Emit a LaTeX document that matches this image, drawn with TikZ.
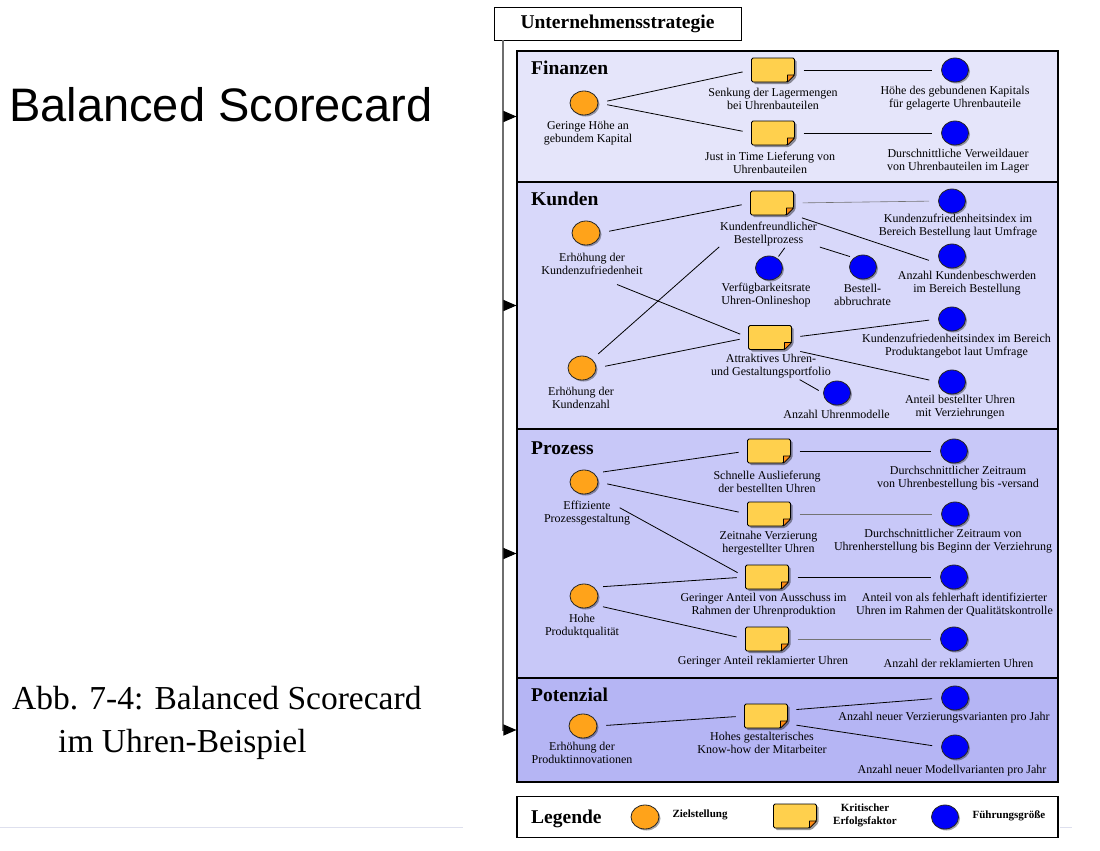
\documentclass[tikz,border=0pt]{standalone}
\usepackage{fontspec}
\setmainfont{Liberation Serif}
\newfontfamily\titlesans{Liberation Sans}
\usetikzlibrary{shapes.geometric,shadows,arrows.meta}
\definecolor{finfill}{RGB}{229,229,250}
\definecolor{kunfill}{RGB}{216,216,250}
\definecolor{profill}{RGB}{200,200,248}
\definecolor{potfill}{RGB}{181,181,244}
\definecolor{goalor}{RGB}{255,163,26}
\definecolor{noteyel}{RGB}{255,208,77}
\definecolor{foldor}{RGB}{255,140,20}
\definecolor{measbl}{RGB}{0,0,250}
\definecolor{spinegray}{RGB}{110,110,110}
\definecolor{footline}{RGB}{222,224,238}
\newcommand\mylbl{\fontsize{12bp}{13bp}\selectfont}
\newcommand\mysec{\fontsize{19.5bp}{22bp}\selectfont\bfseries}
\newcommand\myleg{\fontsize{11bp}{13bp}\selectfont\bfseries}
\tikzset{
  secbox/.style={draw=black, line width=1.1bp, minimum width=541bp, inner sep=0},
  goal/.style={ellipse, draw=black!85, line width=0.8bp, fill=goalor, minimum width=28bp, minimum height=24bp, inner sep=0,
    drop shadow={shadow xshift=1.5bp, shadow yshift=-1.5bp, opacity=0.35, fill=black}},
  meas/.style={goal, fill=measbl, minimum width=27bp},
  note/.style={rectangle, minimum width=43bp, minimum height=24bp, inner sep=0, outer sep=0},
  notebody/.style={draw=black, line width=0.8bp, fill=noteyel, rounded corners=1.5bp,
    drop shadow={shadow xshift=2bp, shadow yshift=-2bp, opacity=0.4, fill=black}},
  notefold/.style={draw=black, line width=0.6bp, fill=foldor, line join=round},
  lbl/.style={font=\mylbl, align=center, inner sep=0},
  sectitle/.style={font=\mysec, anchor=base west, inner sep=0},
  conn/.style={draw=black, line width=0.8bp, shorten <=9bp, shorten >=9bp},
  connthin/.style={conn, draw=black!55, line width=0.6bp},
  arr/.style={draw=spinegray, line width=1.1bp, -{Triangle[length=13bp,width=11bp,color=black]}},
}
\begin{document}
\begin{tikzpicture}[x=1bp,y=-1bp]
\useasboundingbox (0,0) rectangle (1100,851);
% left texts
\node[anchor=base west, inner sep=0, font=\titlesans\fontsize{47bp}{50bp}\selectfont] (title) at (9,121) {Balanced Scorecard};
\node[anchor=base west, inner sep=0, font=\fontsize{33.5bp}{40bp}\selectfont] (cap1) at (12,709) {Abb. 7-4: Balanced Scorecard};
\node[anchor=base west, inner sep=0, font=\fontsize{33.5bp}{40bp}\selectfont] (cap2) at (58,752) {im Uhren-Beispiel};
\draw[footline, line width=0.8bp] (0,827) -- (463,827);
\draw[footline, line width=0.8bp] (1060,827) -- (1072,827);

% section boxes
\node[secbox, fill=finfill, minimum height=131bp] (fin) at (787.5,116.5) {};
\node[secbox, fill=kunfill, minimum height=247bp] (kun) at (787.5,305.5) {};
\node[secbox, fill=profill, minimum height=249bp] (pro) at (787.5,553.5) {};
\node[secbox, fill=potfill, minimum height=104bp] (pot) at (787.5,730) {};
\node[secbox, fill=white, minimum height=41bp] (leg) at (787.5,817) {};

% strategy and spine
\node[draw=black, line width=0.9bp, fill=white, minimum width=247bp, minimum height=33bp, inner sep=0, font=\mysec] (strat) at (617.5,23.5) {Unternehmensstrategie};
\coordinate (s0) at (503,40);
\coordinate (s1) at (503,116.5);
\coordinate (s2) at (503,305.5);
\coordinate (s3) at (503,553.5);
\draw[arr] (s0) |- (pot.west);
\draw[arr] (s1) -- (fin.west);
\draw[arr] (s2) -- (kun.west);
\draw[arr] (s3) -- (pro.west);

% titles
\node[sectitle] (tfin) at (531,74) {Finanzen};
\node[sectitle] (tkun) at (531,205) {Kunden};
\node[sectitle] (tpro) at (531,454) {Prozess};
\node[sectitle] (tpot) at (531,701) {Potenzial};
\node[sectitle] (tleg) at (531,823) {Legende};

% Finanzen
\node[goal] (fo) at (584,103) {};
\node[lbl] (fol) at (588,133.5) {Geringe Höhe an\\gebundem Kapital};
\node[note] (fn1) at (773,70) {};
\node[lbl] (fn1l) at (773,99) {Senkung der Lagermengen\\bei Uhrenbauteilen};
\node[note] (fn2) at (773,133) {};
\node[lbl] (fn2l) at (770,163) {Just in Time Lieferung von\\Uhrenbauteilen};
\node[meas] (fm1) at (955,70) {};
\node[lbl] (fm1l) at (955,98.5) {Höhe des gebundenen Kapitals\\für gelagerte Uhrenbauteile};
\node[meas] (fm2) at (955,133) {};
\node[lbl] (fm2l) at (958,161.5) {Durschnittliche Verweildauer\\von Uhrenbauteilen im Lager};
\draw[conn] (fo.east) -- (fn1.west);
\draw[conn] (fo.east) -- (fn2.west);
\draw[conn] (fn1.east) -- (fm1.west);
\draw[conn] (fn2.east) -- (fm2.west);

% Kunden
\node[goal] (ko1) at (586,233) {};
\node[lbl] (ko1l) at (592,263.5) {Erhöhung der\\Kundenzufriedenheit};
\node[goal] (ko2) at (582,368) {};
\node[lbl] (ko2l) at (581,398) {Erhöhung der\\Kundenzahl};
\node[note] (kn1) at (772,203) {};
\node[lbl] (kn1l) at (768.5,234) {Kundenfreundlicher\\Bestellprozess};
\node[note] (kn2) at (770,337.5) {};
\node[lbl] (kn2l) at (771,366) {Attraktives Uhren-\\und Gestaltungsportfolio};
\node[meas] (km1) at (769,268) {};
\node[lbl] (km1l) at (766,295) {Verfügbarkeitsrate\\Uhren-Onlineshop};
\node[meas] (km2) at (863,267) {};
\node[lbl] (km2l) at (862.5,294.5) {Bestell-\\abbruchrate};
\node[meas] (km3) at (952,201) {};
\node[lbl] (km3l) at (958,226.5) {Kundenzufriedenheitsindex im\\Bereich Bestellung laut Umfrage};
\node[meas] (km4) at (952,256) {};
\node[lbl] (km4l) at (967,283) {Anzahl Kundenbeschwerden\\im Bereich Bestellung};
\node[meas] (km5) at (952,319) {};
\node[lbl] (km5l) at (956.5,346) {Kundenzufriedenheitsindex im Bereich\\Produktangebot laut Umfrage};
\node[meas] (km6) at (952,382) {};
\node[lbl] (km6l) at (960,407.5) {Anteil bestellter Uhren\\mit Verziehrungen};
\node[meas] (km7) at (837,393) {};
\node[lbl] (km7l) at (836.5,414) {Anzahl Uhrenmodelle};
\draw[conn] (ko1.east) -- (kn1.west);
\draw[conn, shorten <=27bp] (ko1l.south) -- (kn2.west);
\draw[conn, shorten <=8bp, shorten >=1bp] (ko2.north east) -- (kn1l.south west);
\draw[conn] (ko2.east) -- (kn2.west);
\draw[connthin] (kn1.east) -- (km3.west);
\draw[conn, shorten >=14bp] (kn1.south east) -- (km4.south west);
\draw[conn, shorten <=2bp, shorten >=2bp] (kn1l.-35) -- (km1.50);
\draw[conn, shorten <=3bp, shorten >=4bp] (kn1l.south east) -- (km2.135);
\draw[conn] (kn2.east) -- (km5.west);
\draw[conn] (kn2.south east) -- (km6.west);
\draw[conn, shorten <=3bp, shorten >=5bp] (kn2l.-25) -- (km7.west);

% Prozess
\node[goal] (po1) at (584,482) {};
\node[lbl] (po1l) at (587,513.5) {Effiziente\\Prozessgestaltung};
\node[goal] (po2) at (584,596) {};
\node[lbl] (po2l) at (582,626) {Hohe\\Produktqualität};
\node[note] (pn1) at (769,451) {};
\node[lbl] (pn1l) at (767,481.5) {Schnelle Auslieferung\\der bestellten Uhren};
\node[note] (pn2) at (769,514) {};
\node[lbl] (pn2l) at (768.5,543) {Zeitnahe Verzierung\\hergestellter Uhren};
\node[note] (pn3) at (767,577) {};
\node[lbl] (pn3l) at (763.5,605.5) {Geringer Anteil von Ausschuss im\\Rahmen der Uhrenproduktion};
\node[note] (pn4) at (767,639) {};
\node[lbl] (pn4l) at (763,662) {Geringer Anteil reklamierter Uhren};
\node[meas] (pm1) at (954,451) {};
\node[lbl] (pm1l) at (958,478.5) {Durchschnittlicher Zeitraum\\von Uhrenbestellung bis -versand};
\node[meas] (pm2) at (955,514) {};
\node[lbl] (pm2l) at (943,541.5) {Durchschnittlicher Zeitraum von\\Uhrenherstellung bis Beginn der Verziehrung};
\node[meas] (pm3) at (954,577) {};
\node[lbl] (pm3l) at (954.5,605) {Anteil von als fehlerhaft identifizierter\\Uhren im Rahmen der Qualitätskontrolle};
\node[meas] (pm4) at (954,639) {};
\node[lbl] (pm4l) at (958.5,663) {Anzahl der reklamierten Uhren};
\draw[conn] (po1.north east) -- (pn1.west);
\draw[conn] (po1.east) -- (pn2.west);
\draw[conn, shorten <=-12bp] (po1l.east) -- (pn3.west);
\draw[conn] (po2.north east) -- (pn3.west);
\draw[conn] (po2.south east) -- (pn4.west);
\draw[conn] (pn1.east) -- (pm1.west);
\draw[connthin] (pn2.east) -- (pm2.west);
\draw[conn] (pn3.east) -- (pm3.west);
\draw[connthin] (pn4.east) -- (pm4.west);

% Potenzial
\node[goal] (to) at (583,726) {};
\node[lbl] (tol) at (582,753) {Erhöhung der\\Produktinnovationen};
\node[note] (tn) at (766,716) {};
\node[lbl] (tnl) at (762,743) {Hohes gestalterisches\\Know-how der Mitarbeiter};
\node[meas] (tm1) at (955,698) {};
\node[lbl] (tm1l) at (944,718) {Anzahl neuer Verzierungsvarianten pro Jahr};
\node[meas] (tm2) at (955,747) {};
\node[lbl] (tm2l) at (952,771) {Anzahl neuer Modellvarianten pro Jahr};
\draw[conn] (to.east) -- (tn.west);
\draw[conn] (tn.15) -- (tm1.west);
\draw[conn] (tn.-20) -- (tm2.west);

% Legende
\node[goal] (lg1) at (645,817) {};
\node[font=\myleg, inner sep=0] (lg1t) at (700,815) {Zielstellung};
\node[note] (lg2) at (795,816) {};
\node[font=\myleg, align=center, inner sep=0] (lg2t) at (865,815) {Kritischer\\Erfolgsfaktor};
\node[meas] (lg3) at (945,817) {};
\node[font=\myleg, inner sep=0] (lg3t) at (1009,816) {Führungsgröße};

% note bodies with folded corner
\foreach \n in {fn1,fn2,kn1,kn2,pn1,pn2,pn3,pn4,tn,lg2} {
  \path[notebody] (\n.north west) -- (\n.north east) -- ([yshift=7bp]\n.south east) -- ([xshift=-7bp]\n.south east) -- (\n.south west) -- cycle;
  \path[notefold] ([yshift=7bp]\n.south east) -- ([xshift=-7bp,yshift=7bp]\n.south east) -- ([xshift=-7bp]\n.south east) -- cycle;
}
\end{tikzpicture}
\end{document}
